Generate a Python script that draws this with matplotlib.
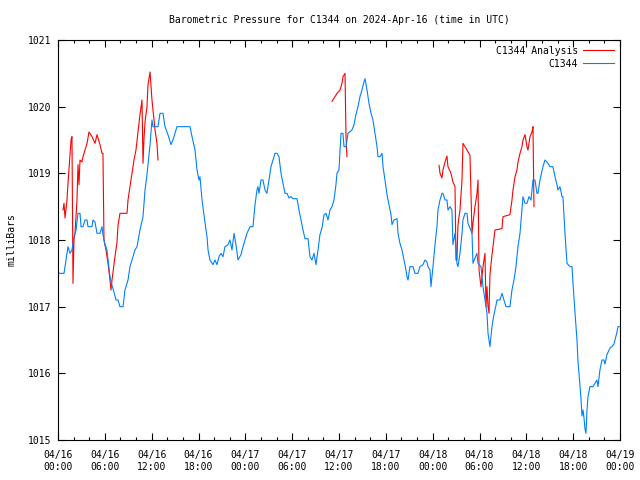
import numpy as np
import matplotlib
matplotlib.use("Agg")
import matplotlib.pyplot as plt
from matplotlib.ticker import MultipleLocator

# hours since 2024-04-16 00:00 UTC
obs_hours = [0.0, 0.77, 1.02, 1.28, 1.54, 1.79, 2.05, 2.31, 2.56, 2.82, 2.95, 3.20, 3.46, 3.72, 3.84, 4.36, 4.48, 4.74, 5.00, 5.38,
             5.64, 5.76, 6.02, 6.28, 6.41, 6.66, 6.92, 7.17, 7.43, 7.69, 7.94, 8.33, 8.58, 8.84, 8.97, 9.22, 9.61, 9.86, 10.12, 10.50,
             10.89, 11.15, 11.40, 11.66, 11.79, 12.04, 12.17, 12.81, 13.07, 13.45, 13.71, 14.09, 14.48, 14.73, 14.99, 15.24, 16.91, 17.17, 17.55, 17.81,
             18.06, 18.19, 18.45, 18.70, 18.96, 19.09, 19.22, 19.47, 19.86, 20.11, 20.37, 20.63, 20.88, 21.14, 21.39, 21.78, 22.03, 22.29, 22.55, 22.80,
             23.06, 23.44, 23.70, 23.96, 24.21, 24.60, 24.98, 25.24, 25.49, 25.62, 25.75, 26.01, 26.26, 26.52, 26.77, 27.03, 27.29, 27.54, 27.80, 28.06,
             28.31, 28.57, 28.82, 29.08, 29.34, 29.59, 29.85, 30.10, 30.62, 30.87, 31.13, 31.39, 31.64, 32.03, 32.28, 32.54, 32.80, 33.05, 33.31, 33.56,
             33.82, 34.08, 34.33, 34.59, 34.85, 35.10, 35.36, 35.61, 35.74, 36.00, 36.13, 36.26, 36.51, 36.64, 36.90, 37.15, 37.66, 37.92, 38.17, 38.43,
             38.69, 38.94, 39.20, 39.33, 39.59, 39.84, 40.10, 40.35, 40.61, 40.87, 40.99, 41.25, 41.51, 41.64, 41.89, 42.15, 42.40, 42.66, 42.79, 43.04,
             43.43, 43.56, 43.81, 44.07, 44.33, 44.58, 44.71, 44.84, 45.09, 45.48, 45.73, 46.12, 46.37, 46.76, 47.02, 47.27, 47.40, 47.66, 47.78, 48.04,
             48.30, 48.55, 48.68, 48.94, 49.19, 49.32, 49.58, 49.83, 49.96, 50.22, 50.47, 50.60, 50.86, 51.11, 51.24, 51.50, 51.76, 51.88, 52.14, 52.40,
             52.52, 52.78, 53.04, 53.16, 53.42, 53.68, 53.81, 54.19, 54.45, 54.70, 54.96, 55.09, 55.34, 55.60, 55.85, 56.11, 56.24, 56.62, 56.88, 57.14,
             57.39, 57.90, 58.16, 58.42, 58.67, 58.93, 59.19, 59.44, 59.57, 59.83, 60.08, 60.34, 60.60, 60.85, 61.11, 61.36, 61.49, 61.75, 62.13, 62.39,
             62.77, 63.03, 63.41, 63.67, 63.93, 64.05, 64.31, 64.57, 64.69, 64.95, 65.21, 65.60, 65.85, 65.98, 66.24, 66.49, 66.62, 66.88, 67.01, 67.13,
             67.26, 67.39, 67.51, 67.64, 67.77, 67.90, 68.15, 68.54, 68.79, 69.05, 69.18, 69.43, 69.69, 69.95, 70.07, 70.33, 70.72, 70.97, 71.23, 71.36,
             71.61, 71.74, 72.0]
obs_mb = [1017.50, 1017.50, 1017.70, 1017.90, 1017.80, 1017.85, 1018.05, 1018.15, 1018.40, 1018.40, 1018.20, 1018.20, 1018.30, 1018.30, 1018.20, 1018.20, 1018.30, 1018.27, 1018.10, 1018.10,
          1018.20, 1018.08, 1017.93, 1017.85, 1017.70, 1017.45, 1017.32, 1017.22, 1017.10, 1017.10, 1017.00, 1017.00, 1017.25, 1017.35, 1017.40, 1017.60, 1017.75, 1017.85, 1017.90, 1018.15,
          1018.35, 1018.75, 1018.98, 1019.28, 1019.43, 1019.80, 1019.70, 1019.70, 1019.90, 1019.90, 1019.70, 1019.58, 1019.43, 1019.50, 1019.60, 1019.70, 1019.70, 1019.55, 1019.35, 1019.05,
          1018.90, 1018.95, 1018.60, 1018.38, 1018.15, 1018.05, 1017.85, 1017.70, 1017.63, 1017.70, 1017.63, 1017.75, 1017.80, 1017.75, 1017.90, 1017.93, 1018.00, 1017.85, 1018.10, 1017.93,
          1017.70, 1017.78, 1017.90, 1018.00, 1018.10, 1018.20, 1018.20, 1018.53, 1018.75, 1018.80, 1018.70, 1018.90, 1018.90, 1018.75, 1018.70, 1018.90, 1019.10, 1019.20, 1019.30, 1019.30,
          1019.25, 1019.00, 1018.85, 1018.70, 1018.70, 1018.63, 1018.65, 1018.62, 1018.62, 1018.45, 1018.30, 1018.15, 1018.02, 1018.02, 1017.75, 1017.70, 1017.80, 1017.63, 1017.85, 1018.08,
          1018.18, 1018.38, 1018.40, 1018.30, 1018.45, 1018.50, 1018.60, 1018.83, 1019.00, 1019.05, 1019.35, 1019.60, 1019.60, 1019.40, 1019.40, 1019.60, 1019.65, 1019.73, 1019.88, 1020.00,
          1020.15, 1020.25, 1020.37, 1020.42, 1020.25, 1020.05, 1019.90, 1019.80, 1019.60, 1019.40, 1019.25, 1019.25, 1019.30, 1019.10, 1018.90, 1018.68, 1018.53, 1018.38, 1018.23, 1018.30,
          1018.32, 1018.10, 1017.95, 1017.85, 1017.70, 1017.55, 1017.45, 1017.40, 1017.60, 1017.60, 1017.50, 1017.50, 1017.60, 1017.63, 1017.70, 1017.67, 1017.60, 1017.55, 1017.30, 1017.60,
          1017.93, 1018.20, 1018.45, 1018.60, 1018.70, 1018.70, 1018.60, 1018.60, 1018.45, 1018.50, 1018.45, 1017.93, 1018.10, 1017.65, 1017.60, 1017.80, 1018.10, 1018.30, 1018.40, 1018.40,
          1018.25, 1018.18, 1018.10, 1017.65, 1017.73, 1017.80, 1017.65, 1017.60, 1017.30, 1017.10, 1016.90, 1016.60, 1016.40, 1016.70, 1016.88, 1017.02, 1017.10, 1017.10, 1017.20, 1017.10,
          1017.00, 1017.00, 1017.25, 1017.40, 1017.60, 1017.90, 1018.10, 1018.45, 1018.65, 1018.55, 1018.55, 1018.65, 1018.60, 1018.90, 1018.90, 1018.70, 1018.70, 1018.90, 1019.10, 1019.20,
          1019.15, 1019.10, 1019.10, 1018.95, 1018.83, 1018.75, 1018.80, 1018.65, 1018.65, 1018.10, 1017.65, 1017.60, 1017.60, 1017.35, 1016.90, 1016.50, 1016.17, 1015.81, 1015.60, 1015.36,
          1015.45, 1015.33, 1015.17, 1015.10, 1015.45, 1015.65, 1015.80, 1015.80, 1015.85, 1015.90, 1015.80, 1016.05, 1016.20, 1016.20, 1016.14, 1016.28, 1016.38, 1016.40, 1016.44, 1016.50,
          1016.62, 1016.70, 1016.70]

ana1_hours = [0.64, 0.77, 0.90, 1.15, 1.28, 1.54, 1.67, 1.79, 1.92, 2.05, 2.18, 2.43, 2.56, 2.69, 2.82, 3.07, 3.20, 3.46, 3.72, 3.97,
              4.36, 4.74, 5.00, 5.12, 5.38, 5.64, 5.76, 5.89, 6.15, 6.41, 6.66, 6.79, 6.92, 7.05, 7.30, 7.56, 7.69, 7.94, 8.84, 8.97,
              9.22, 9.48, 9.74, 9.99, 10.25, 10.50, 10.76, 10.89, 11.02, 11.15, 11.40, 11.53, 11.79, 12.04, 12.17, 12.43, 12.68, 12.81]
ana1_mb = [1018.45, 1018.55, 1018.33, 1018.60, 1018.85, 1019.28, 1019.50, 1019.55, 1017.35, 1018.00, 1018.10, 1018.60, 1019.13, 1018.83, 1019.20, 1019.17, 1019.25, 1019.35, 1019.45, 1019.62,
           1019.55, 1019.45, 1019.58, 1019.53, 1019.43, 1019.30, 1019.30, 1018.00, 1017.85, 1017.65, 1017.40, 1017.25, 1017.40, 1017.52, 1017.75, 1017.97, 1018.22, 1018.40, 1018.40, 1018.60,
           1018.80, 1019.00, 1019.20, 1019.35, 1019.62, 1019.88, 1020.10, 1019.15, 1019.53, 1019.77, 1020.00, 1020.33, 1020.52, 1020.10, 1019.95, 1019.65, 1019.45, 1019.20]

ana2_hours = [35.10, 35.49, 35.74, 36.13, 36.38, 36.51, 36.77, 36.90, 37.02]
ana2_mb = [1020.08, 1020.15, 1020.20, 1020.25, 1020.35, 1020.45, 1020.50, 1019.55, 1019.25]

ana3_hours = [48.81, 48.94, 49.19, 49.32, 49.58, 49.83, 49.96, 50.35, 50.60, 50.86, 50.99, 51.11, 51.24, 51.50, 51.76, 51.88, 52.40, 52.78, 53.04, 53.16,
              53.42, 53.68, 53.81, 53.94, 54.19, 54.32, 54.45, 54.70, 54.83, 54.96, 55.09, 55.22, 55.34, 55.60, 55.73, 55.98, 56.88, 57.01, 57.90, 58.16,
              58.29, 58.55, 58.80, 58.93, 59.19, 59.44, 59.57, 59.83, 60.08, 60.21, 60.47, 60.72, 60.85, 60.98]
ana3_mb = [1019.12, 1019.00, 1018.93, 1019.05, 1019.17, 1019.26, 1019.10, 1019.00, 1018.87, 1018.80, 1017.70, 1017.70, 1018.22, 1018.45, 1018.90, 1019.45, 1019.35, 1019.27, 1018.10, 1018.25,
           1018.50, 1018.70, 1018.90, 1017.55, 1017.30, 1017.45, 1017.60, 1017.80, 1017.00, 1017.30, 1017.00, 1016.90, 1017.48, 1017.78, 1017.90, 1018.15, 1018.17, 1018.35, 1018.38, 1018.60,
           1018.75, 1018.95, 1019.05, 1019.17, 1019.30, 1019.40, 1019.50, 1019.58, 1019.40, 1019.35, 1019.55, 1019.62, 1019.70, 1018.50]

xtick_labels = ["04/16\n00:00", "04/16\n06:00", "04/16\n12:00", "04/16\n18:00", "04/17\n00:00", "04/17\n06:00", "04/17\n12:00",
                "04/17\n18:00", "04/18\n00:00", "04/18\n06:00", "04/18\n12:00", "04/18\n18:00", "04/19\n00:00"]
yticks = [1015, 1016, 1017, 1018, 1019, 1020, 1021]

FONT = "DejaVu Sans Mono"
plt.rcParams["font.family"] = FONT
plt.rcParams["font.size"] = 7

fig = plt.figure(figsize=(6.4, 4.8), dpi=100)
ax = fig.add_axes([58/640, 40/480, 562/640, 400/480])

red = "#ff0000"
blue = "#0080ff"
ana_h = ana1_hours + [np.nan] + ana2_hours + [np.nan] + ana3_hours
ana_v = ana1_mb + [np.nan] + ana2_mb + [np.nan] + ana3_mb
ax.plot(ana_h, ana_v, color=red, lw=0.8, label="C1344 Analysis")
ax.plot(obs_hours, obs_mb, color=blue, lw=0.8, label="C1344")

ax.set_xlim(0, 72)
ax.set_ylim(1015, 1021)
ax.set_xticks(np.arange(0, 73, 6))
ax.set_xticklabels(xtick_labels, linespacing=1.25)
ax.xaxis.set_minor_locator(MultipleLocator(2))
ax.set_yticks(yticks)
ax.set_yticklabels([str(v) for v in yticks])
ax.tick_params(which="both", direction="in", top=True, right=True, width=0.8, colors="black", labelsize=7)
ax.tick_params(axis="x", which="major", length=5, pad=7)
ax.tick_params(axis="y", which="major", length=5, pad=5)
ax.tick_params(which="minor", length=2.5)
for s in ax.spines.values():
    s.set_linewidth(0.8)

ax.set_ylabel("milliBars", fontsize=7, labelpad=8)
ax.set_title("Barometric Pressure for C1344 on 2024-Apr-16 (time in UTC)", fontsize=7, pad=12)

ax.legend(loc="upper right", markerfirst=False, frameon=False, fontsize=7, handlelength=3.2,
          handletextpad=0.5, borderaxespad=0.2, labelspacing=0.3)

fig.savefig("out.png", dpi=100)
